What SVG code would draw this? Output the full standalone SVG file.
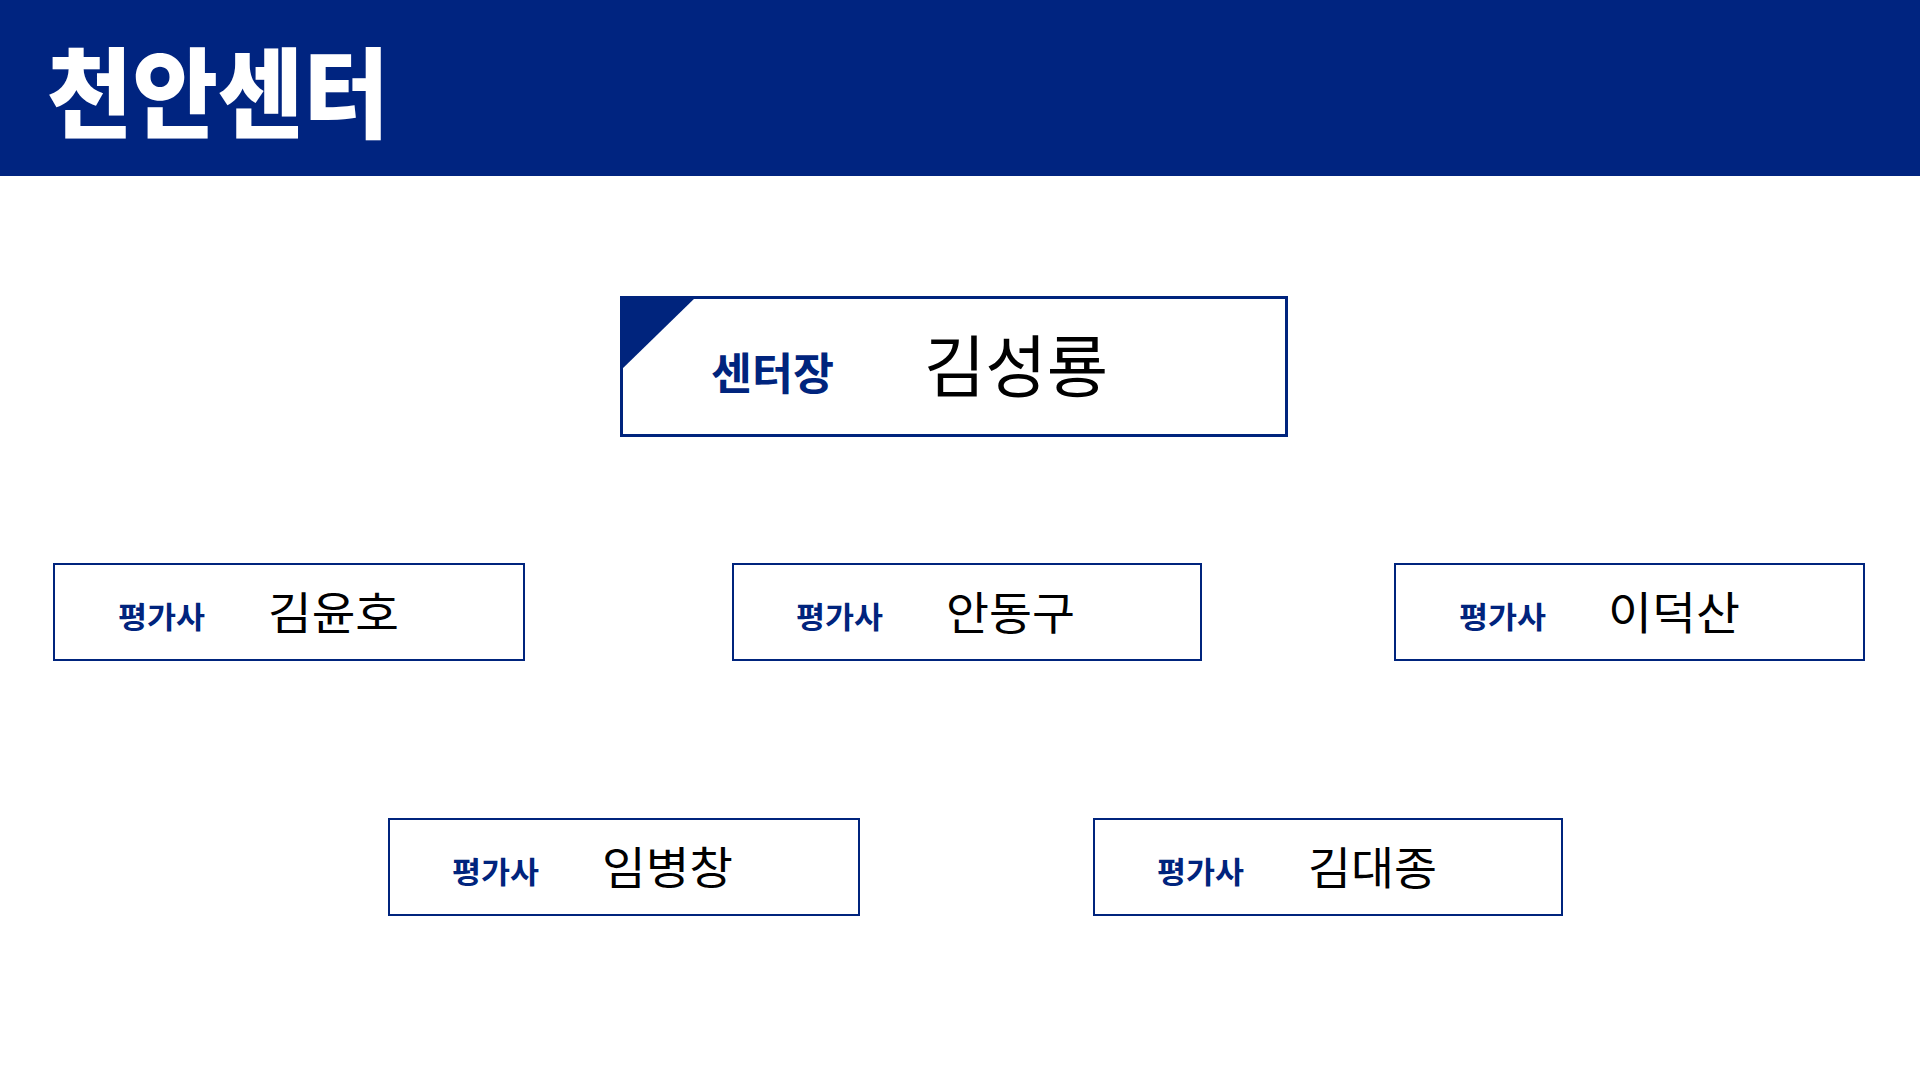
<svg xmlns="http://www.w3.org/2000/svg" width="1920" height="1080" viewBox="0 0 1920 1080">
<style>
.box{fill:#ffffff;stroke:#00247d;stroke-width:2}
.lbl{font-family:"Noto Sans CJK KR","Noto Sans",sans-serif;font-weight:700;fill:#00247d;font-size:30px}
.nm{font-family:"Noto Sans CJK KR","Noto Sans",sans-serif;font-weight:400;fill:#000000;font-size:45px}
</style>
<rect x="0" y="0" width="1920" height="176" fill="#002480"/>
<text x="47" y="130" font-family="'Noto Sans CJK KR','Noto Sans',sans-serif" font-weight="900" font-size="98" fill="#ffffff" textLength="342" lengthAdjust="spacingAndGlyphs">천안센터</text>
<g id="connectors"></g>
<g id="node-head">
<rect x="621.5" y="297.5" width="665" height="138" fill="#ffffff" stroke="#00247d" stroke-width="3"/>
<polygon points="620,296 697,296 620,371" fill="#00247d"/>
<text x="711" y="390" font-family="'Noto Sans CJK KR','Noto Sans',sans-serif" font-weight="700" font-size="44" fill="#00247d" textLength="123" lengthAdjust="spacingAndGlyphs">센터장</text>
<text x="924" y="392" font-family="'Noto Sans CJK KR','Noto Sans',sans-serif" font-weight="400" font-size="68" fill="#000000" textLength="184" lengthAdjust="spacingAndGlyphs">김성룡</text>
</g>
<g id="node-1">
<rect class="box" x="54" y="564" width="470" height="96"/>
<text class="lbl" x="118" y="628" textLength="87" lengthAdjust="spacingAndGlyphs">평가사</text>
<text class="nm" x="268" y="629.5" textLength="131" lengthAdjust="spacingAndGlyphs">김윤호</text>
</g>
<g id="node-2">
<rect class="box" x="733" y="564" width="468" height="96"/>
<text class="lbl" x="796" y="628" textLength="87" lengthAdjust="spacingAndGlyphs">평가사</text>
<text class="nm" x="946" y="629.5" textLength="129" lengthAdjust="spacingAndGlyphs">안동구</text>
</g>
<g id="node-3">
<rect class="box" x="1395" y="564" width="469" height="96"/>
<text class="lbl" x="1459" y="628" textLength="87" lengthAdjust="spacingAndGlyphs">평가사</text>
<text class="nm" x="1608" y="629.5" textLength="132" lengthAdjust="spacingAndGlyphs">이덕산</text>
</g>
<g id="node-4">
<rect class="box" x="389" y="819" width="470" height="96"/>
<text class="lbl" x="452" y="883" textLength="87" lengthAdjust="spacingAndGlyphs">평가사</text>
<text class="nm" x="602" y="884.5" textLength="131" lengthAdjust="spacingAndGlyphs">임병창</text>
</g>
<g id="node-5">
<rect class="box" x="1094" y="819" width="468" height="96"/>
<text class="lbl" x="1157" y="883" textLength="87" lengthAdjust="spacingAndGlyphs">평가사</text>
<text class="nm" x="1308" y="884.5" textLength="129" lengthAdjust="spacingAndGlyphs">김대종</text>
</g>
</svg>
